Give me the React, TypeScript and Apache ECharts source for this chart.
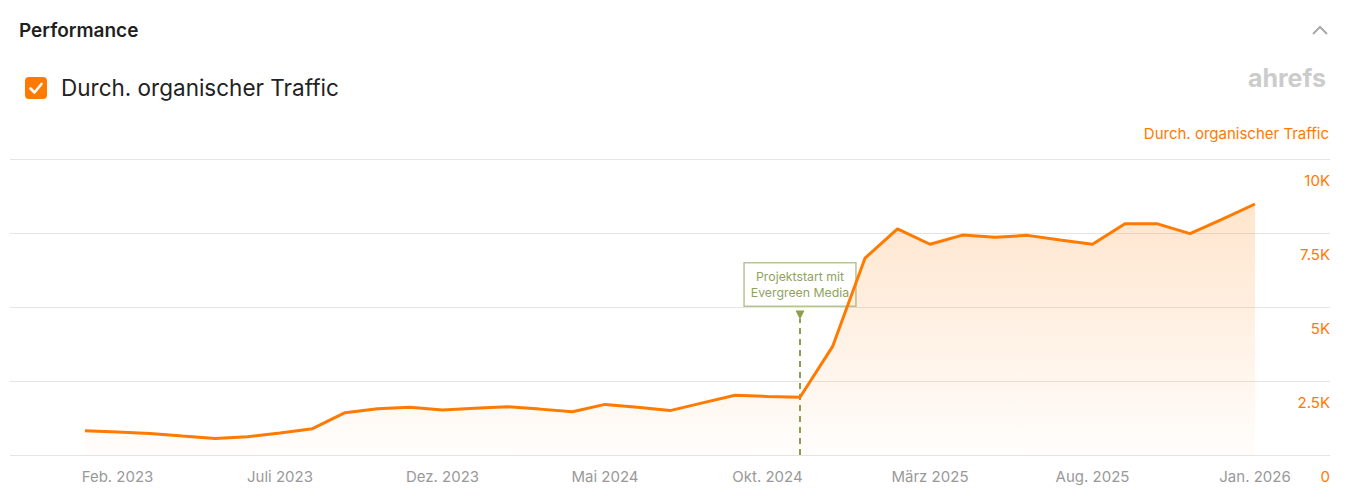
import React, { useEffect, useRef } from "react";
import * as echarts from "echarts";

const categories = [
  "Jan. 2023", "Feb. 2023", "März 2023", "Apr. 2023", "Mai 2023", "Juni 2023",
  "Juli 2023", "Aug. 2023", "Sep. 2023", "Okt. 2023", "Nov. 2023", "Dez. 2023",
  "Jan. 2024", "Feb. 2024", "März 2024", "Apr. 2024", "Mai 2024", "Juni 2024",
  "Juli 2024", "Aug. 2024", "Sep. 2024", "Okt. 2024", "Nov. 2024", "Dez. 2024",
  "Jan. 2025", "Feb. 2025", "März 2025", "Apr. 2025", "Mai 2025", "Juni 2025",
  "Juli 2025", "Aug. 2025", "Sep. 2025", "Okt. 2025", "Nov. 2025", "Dez. 2025",
  "Jan. 2026",
];

const traffic = [
  820, 780, 730, 640, 560, 620, 740, 890, 1430, 1560, 1610, 1520,
  1580, 1630, 1550, 1460, 1710, 1610, 1500, 1760, 2020, 1980, 1950, 3660,
  6650, 7640, 7120, 7430, 7360, 7420, 7260, 7120, 7810, 7810, 7480, 7970,
  8480,
];

const yTicks = [0, 2500, 5000, 7500, 10000];
const yTickLabels = ["0", "2.5K", "5K", "7.5K", "10K"];

// project start: a few days into Nov. 2024 (category index 22 + fraction of a month)
const annotationPosition = 22.12;
const annotationText = "Projektstart mit\nEvergreen Media";
const annotationArrowValue = 4730;
const annotationLineTop = 4600;

const ORANGE = "#ff7a00";
const OLIVE = "#8c9f4e";
const FONT = "Inter, 'Noto Sans', sans-serif";

export default function App() {
  const ref = useRef<HTMLDivElement>(null);

  useEffect(() => {
    document.body.style.margin = "0";
    if (!ref.current) return;
    const chart = echarts.init(ref.current, undefined, { renderer: "svg" });

    const option: any = {
      animation: false,
      backgroundColor: "#ffffff",
      textStyle: { fontFamily: FONT },
      grid: [
        { left: 10, right: 18, top: 159, bottom: 49, containLabel: false, outerBoundsMode: "none" },
        { left: 85, right: 93, top: 159, bottom: 49, containLabel: false, outerBoundsMode: "none" },
      ],
      xAxis: [
        { type: "value", gridIndex: 0, min: 0, max: 1, show: false },
        {
          type: "category",
          gridIndex: 1,
          data: categories,
          boundaryGap: false,
          axisLine: { show: false },
          axisTick: { show: false },
          splitLine: { show: false },
          axisLabel: {
            interval: (i: number) => i % 5 === 1,
            color: "#999999",
            fontSize: 15,
            lineHeight: 15,
            margin: 14,
            fontFamily: FONT,
          },
        },
      ],
      yAxis: [
        {
          type: "value",
          gridIndex: 0,
          position: "right",
          min: 0,
          max: 10000,
          interval: 2500,
          axisLine: { show: false },
          axisTick: { show: false },
          splitLine: { show: true, lineStyle: { color: "#e4e4e4", width: 1 } },
          axisLabel: {
            inside: true,
            margin: 0,
            color: ORANGE,
            fontSize: 15,
            lineHeight: 15,
            verticalAlign: "top",
            padding: [14, 0, 0, 0],
            fontFamily: FONT,
            showMinLabel: true,
            showMaxLabel: true,
            formatter: (v: number) => {
              const k = yTicks.indexOf(v);
              return k >= 0 ? yTickLabels[k] : "";
            },
          },
        },
        {
          type: "value",
          gridIndex: 1,
          min: 0,
          max: 10000,
          show: false,
        },
      ],
      series: [
        {
          type: "line",
          name: "Durch. organischer Traffic",
          xAxisIndex: 1,
          yAxisIndex: 1,
          data: traffic,
          symbol: "none",
          z: 3,
          lineStyle: { color: ORANGE, width: 3 },
          areaStyle: {
            color: new echarts.graphic.LinearGradient(0, 0, 0, 1, [
              { offset: 0, color: "rgba(255,122,0,0.28)" },
              { offset: 1, color: "rgba(255,122,0,0.02)" },
            ]),
          },
          markLine: {
            silent: true,
            z: 1,
            symbol: "none",
            label: { show: false },
            lineStyle: { color: OLIVE, width: 2, type: [6, 5] },
            data: [
              [
                { coord: [annotationPosition, 0] },
                { coord: [annotationPosition, annotationLineTop] },
              ],
            ],
          },
          markPoint: {
            silent: true,
            z: 1,
            symbol: "triangle",
            symbolSize: [9, 9],
            symbolRotate: 180,
            itemStyle: { color: OLIVE },
            label: {
              show: true,
              position: "top",
              distance: 5,
              formatter: annotationText,
              color: "#8fa35c",
              fontSize: 12.3,
              lineHeight: 16,
              fontFamily: FONT,
              backgroundColor: "#ffffff",
              borderColor: "#b7c493",
              borderWidth: 1.5,
              padding: [5, 6, 5, 6],
              align: "center",
            },
            data: [
              { coord: [annotationPosition, annotationArrowValue] },
            ],
          },
        },
      ],
      graphic: [
        {
          type: "text",
          left: 19,
          top: 21,
          style: {
            text: "Performance",
            fontSize: 19,
            fontWeight: 600,
            fill: "#1f1f1f",
            fontFamily: FONT,
          },
        },
        {
          type: "polyline",
          shape: { points: [[1313, 34], [1320, 27], [1327, 34]] },
          style: { stroke: "#aaaaaa", lineWidth: 2, fill: "none" },
        },
        {
          type: "rect",
          shape: { x: 25, y: 77, width: 22, height: 22, r: 4 },
          style: { fill: ORANGE },
        },
        {
          type: "polyline",
          shape: { points: [[30.5, 88.5], [34.5, 92.5], [41.5, 84]] },
          style: { stroke: "#ffffff", lineWidth: 2.6, fill: "none", lineCap: "round", lineJoin: "round" },
        },
        {
          type: "text",
          left: 61,
          top: 76,
          style: {
            text: "Durch. organischer Traffic",
            fontSize: 22.5,
            fill: "#222222",
            fontFamily: FONT,
          },
        },
        {
          type: "text",
          right: 22,
          top: 65,
          style: {
            text: "ahrefs",
            fontSize: 25,
            fontWeight: 700,
            fill: "#cccccc",
            fontFamily: FONT,
          },
        },
        {
          type: "text",
          right: 19,
          top: 126,
          style: {
            text: "Durch. organischer Traffic",
            fontSize: 15,
            fill: ORANGE,
            fontFamily: FONT,
          },
        },
      ],
    };

    chart.setOption(option);
    return () => chart.dispose();
  }, []);

  return <div ref={ref} style={{ width: 1348, height: 504 }} />;
}
